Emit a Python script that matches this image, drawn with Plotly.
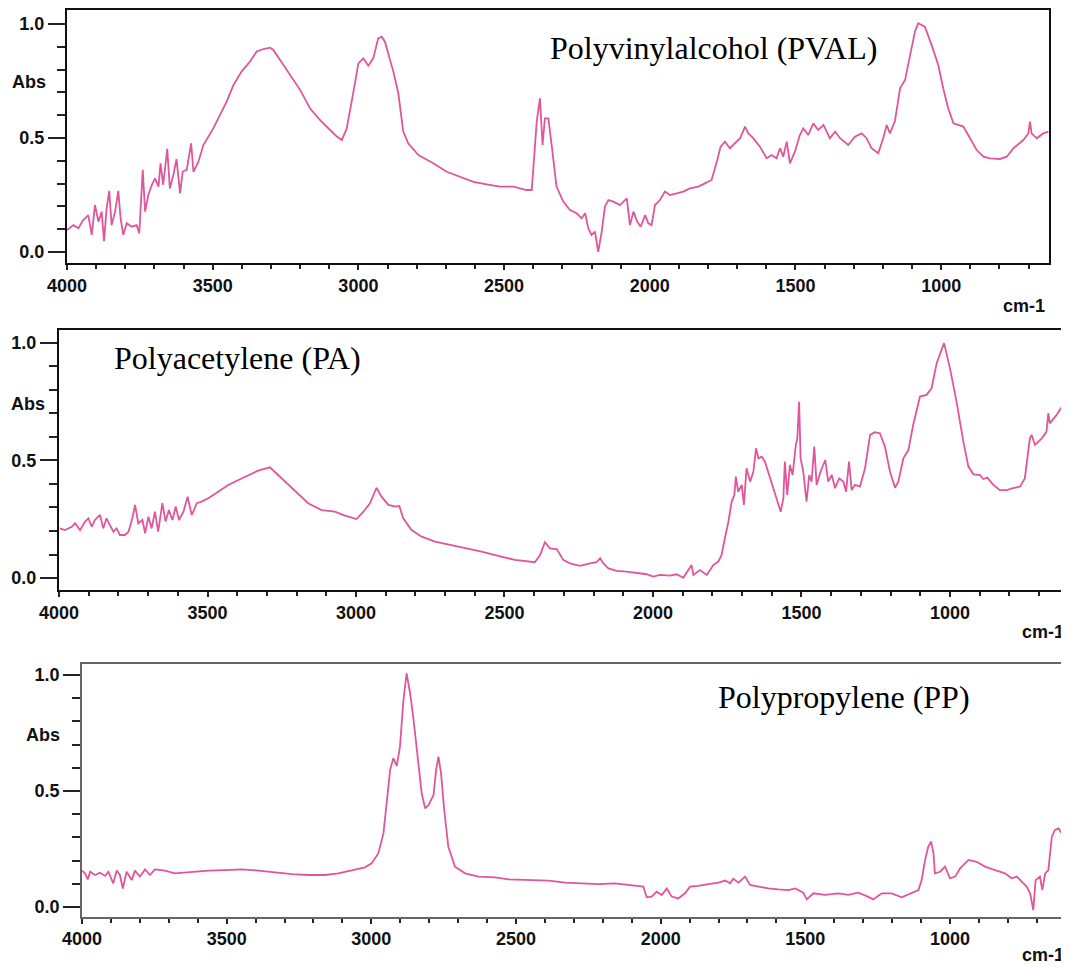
import plotly.graph_objects as go

# the page body adds an 8px margin, so pixel positions below are screen px minus OFF
OFF = 8
W, H = 1069 - OFF, 967 - OFF
LINE = "#e0559b"

# --- Polyvinylalcohol (PVAL) ---
pval_wn = [4000, 3978, 3961, 3944, 3927, 3915, 3904, 3892, 3881, 3873, 3864, 3855, 3847, 3835,
           3824, 3816, 3807, 3795, 3778, 3761, 3752, 3747, 3740, 3732, 3721, 3709, 3698, 3686,
           3679, 3670, 3656, 3647, 3635, 3624, 3612, 3603, 3589, 3574, 3566, 3549, 3532, 3498,
           3475, 3452, 3429, 3401, 3372, 3349, 3326, 3303, 3292, 3269, 3235, 3200, 3166, 3132,
           3097, 3074, 3057, 3040, 3017, 3000, 2983, 2966, 2949, 2932, 2920, 2909, 2880, 2863,
           2846, 2829, 2794, 2743, 2697, 2651, 2605, 2560, 2514, 2468, 2423, 2405, 2388, 2377,
           2368, 2360, 2348, 2335, 2320, 2297, 2274, 2251, 2234, 2222, 2211, 2200, 2188, 2177,
           2165, 2154, 2142, 2125, 2102, 2079, 2068, 2056, 2043, 2031, 2016, 2005, 1994, 1982,
           1965, 1948, 1931, 1908, 1885, 1862, 1833, 1811, 1788, 1770, 1757, 1742, 1725, 1708,
           1690, 1673, 1662, 1645, 1622, 1599, 1582, 1565, 1553, 1542, 1530, 1519, 1502, 1485,
           1473, 1456, 1439, 1422, 1404, 1382, 1364, 1347, 1319, 1296, 1273, 1256, 1239, 1216,
           1199, 1187, 1176, 1159, 1141, 1124, 1107, 1090, 1079, 1056, 1033, 1010, 993, 976,
           958, 924, 901, 878, 855, 832, 798, 775, 752, 718, 701, 695, 690, 672, 650, 632]
pval_abs = [0.096, 0.118, 0.104, 0.140, 0.162, 0.075, 0.206, 0.133, 0.177, 0.048, 0.192, 0.268, 0.118, 0.177,
            0.268, 0.148, 0.075, 0.126, 0.111, 0.118, 0.082, 0.221, 0.360, 0.177, 0.250, 0.294, 0.323, 0.287,
            0.389, 0.294, 0.452, 0.279, 0.338, 0.408, 0.257, 0.352, 0.360, 0.477, 0.352, 0.396, 0.469, 0.542,
            0.601, 0.659, 0.732, 0.791, 0.835, 0.879, 0.890, 0.896, 0.886, 0.842, 0.776, 0.711, 0.630, 0.579,
            0.535, 0.506, 0.491, 0.542, 0.703, 0.827, 0.849, 0.817, 0.849, 0.937, 0.944, 0.922, 0.791, 0.696,
            0.528, 0.477, 0.425, 0.389, 0.352, 0.330, 0.308, 0.297, 0.287, 0.287, 0.272, 0.272, 0.572, 0.674,
            0.469, 0.586, 0.586, 0.450, 0.287, 0.221, 0.184, 0.170, 0.148, 0.170, 0.104, 0.075, 0.089, 0.001,
            0.089, 0.199, 0.228, 0.221, 0.206, 0.235, 0.118, 0.177, 0.133, 0.111, 0.162, 0.126, 0.118, 0.206,
            0.228, 0.265, 0.250, 0.257, 0.265, 0.279, 0.287, 0.301, 0.316, 0.396, 0.462, 0.484, 0.455, 0.477,
            0.499, 0.550, 0.520, 0.499, 0.462, 0.411, 0.425, 0.411, 0.455, 0.418, 0.484, 0.389, 0.440, 0.513,
            0.542, 0.513, 0.564, 0.535, 0.557, 0.499, 0.528, 0.499, 0.469, 0.506, 0.520, 0.499, 0.455, 0.433,
            0.499, 0.557, 0.520, 0.572, 0.718, 0.754, 0.864, 0.966, 1.003, 0.988, 0.908, 0.820, 0.718, 0.630,
            0.564, 0.550, 0.499, 0.447, 0.418, 0.411, 0.408, 0.418, 0.455, 0.491, 0.520, 0.572, 0.520, 0.499, 0.520, 0.528]

# --- Polyacetylene (PA) ---
pa_wn = [3997, 3980, 3957, 3946, 3929, 3912, 3901, 3890, 3879, 3862, 3851, 3840, 3829, 3817,
         3806, 3795, 3778, 3766, 3753, 3744, 3733, 3719, 3710, 3699, 3688, 3677, 3666, 3652,
         3641, 3630, 3618, 3607, 3596, 3581, 3567, 3553, 3536, 3520, 3497, 3464, 3430, 3396,
         3362, 3329, 3290, 3250, 3205, 3161, 3116, 3071, 3037, 2998, 2975, 2953, 2931, 2914,
         2891, 2868, 2854, 2841, 2813, 2779, 2734, 2690, 2633, 2577, 2521, 2465, 2398, 2380,
         2364, 2347, 2324, 2302, 2279, 2246, 2212, 2190, 2178, 2167, 2150, 2122, 2089, 2055,
         2021, 1999, 1976, 1943, 1920, 1898, 1870, 1864, 1842, 1819, 1797, 1780, 1769, 1758,
         1746, 1735, 1726, 1721, 1713, 1701, 1694, 1685, 1673, 1662, 1653, 1645, 1634, 1623,
         1612, 1595, 1578, 1570, 1561, 1556, 1548, 1539, 1530, 1519, 1514, 1508, 1503, 1494,
         1483, 1474, 1466, 1457, 1449, 1436, 1420, 1410, 1398, 1387, 1373, 1359, 1350, 1340,
         1331, 1320, 1303, 1286, 1269, 1253, 1236, 1219, 1202, 1185, 1174, 1157, 1140, 1124,
         1101, 1079, 1062, 1045, 1020, 1000, 978, 955, 938, 921, 899, 888, 874, 854,
         832, 809, 787, 764, 748, 731, 725, 714, 691, 675, 669, 664, 641, 619, 605]
pa_abs = [0.211, 0.204, 0.218, 0.233, 0.204, 0.240, 0.254, 0.218, 0.247, 0.268, 0.211, 0.254, 0.226, 0.197,
          0.211, 0.183, 0.183, 0.197, 0.254, 0.311, 0.233, 0.247, 0.190, 0.261, 0.211, 0.282, 0.197, 0.318,
          0.240, 0.289, 0.247, 0.304, 0.247, 0.282, 0.346, 0.268, 0.318, 0.325, 0.339, 0.367, 0.396, 0.417,
          0.438, 0.457, 0.471, 0.424, 0.367, 0.318, 0.289, 0.282, 0.265, 0.251, 0.282, 0.318, 0.384, 0.346,
          0.311, 0.304, 0.306, 0.254, 0.204, 0.176, 0.155, 0.143, 0.129, 0.112, 0.094, 0.077, 0.067, 0.098,
          0.152, 0.126, 0.123, 0.077, 0.062, 0.052, 0.062, 0.067, 0.084, 0.062, 0.041, 0.030, 0.027, 0.020,
          0.016, 0.006, 0.013, 0.010, 0.016, 0.001, 0.055, 0.013, 0.034, 0.013, 0.055, 0.070, 0.098, 0.169,
          0.240, 0.325, 0.353, 0.431, 0.367, 0.396, 0.311, 0.467, 0.410, 0.452, 0.552, 0.509, 0.516, 0.495,
          0.452, 0.382, 0.311, 0.282, 0.339, 0.495, 0.353, 0.481, 0.438, 0.566, 0.594, 0.750, 0.509, 0.452,
          0.325, 0.438, 0.410, 0.559, 0.396, 0.452, 0.502, 0.410, 0.438, 0.382, 0.424, 0.410, 0.367, 0.495,
          0.374, 0.396, 0.389, 0.467, 0.609, 0.620, 0.616, 0.559, 0.452, 0.384, 0.410, 0.509, 0.545, 0.651,
          0.772, 0.779, 0.807, 0.913, 0.999, 0.892, 0.750, 0.580, 0.474, 0.441, 0.438, 0.421, 0.427, 0.396,
          0.374, 0.374, 0.382, 0.389, 0.424, 0.594, 0.609, 0.566, 0.594, 0.623, 0.701, 0.658, 0.694, 0.736, 0.779]

# --- Polypropylene (PP) ---
pp_wn = [4000, 3990, 3980, 3972, 3955, 3938, 3920, 3909, 3892, 3880, 3869, 3859, 3846, 3828,
         3817, 3800, 3782, 3765, 3748, 3713, 3679, 3621, 3563, 3506, 3448, 3390, 3333, 3275,
         3218, 3160, 3114, 3068, 3022, 2999, 2976, 2958, 2947, 2935, 2924, 2912, 2901, 2889,
         2878, 2866, 2854, 2843, 2826, 2814, 2802, 2785, 2776, 2768, 2759, 2748, 2734, 2711,
         2676, 2630, 2572, 2526, 2457, 2388, 2330, 2273, 2215, 2158, 2100, 2060, 2048, 2031,
         2014, 1996, 1979, 1962, 1939, 1916, 1898, 1870, 1835, 1800, 1777, 1760, 1749, 1731,
         1708, 1691, 1662, 1628, 1593, 1558, 1535, 1507, 1495, 1472, 1432, 1386, 1351, 1317,
         1288, 1265, 1236, 1201, 1167, 1132, 1109, 1098, 1086, 1075, 1065, 1057, 1052, 1034,
         1017, 1000, 982, 965, 936, 908, 879, 844, 810, 787, 769, 752, 735, 723,
         712, 704, 689, 681, 671, 660, 648, 637, 625, 614, 602]
pp_abs = [0.157, 0.145, 0.119, 0.152, 0.138, 0.148, 0.134, 0.152, 0.102, 0.157, 0.138, 0.080, 0.152, 0.116,
          0.157, 0.131, 0.162, 0.138, 0.162, 0.157, 0.145, 0.152, 0.157, 0.159, 0.162, 0.157, 0.148, 0.142,
          0.138, 0.138, 0.145, 0.157, 0.171, 0.188, 0.231, 0.318, 0.461, 0.591, 0.641, 0.608, 0.691, 0.892,
          1.007, 0.921, 0.806, 0.677, 0.490, 0.425, 0.440, 0.483, 0.591, 0.648, 0.576, 0.418, 0.260, 0.174,
          0.145, 0.131, 0.128, 0.119, 0.116, 0.114, 0.105, 0.102, 0.099, 0.102, 0.095, 0.088, 0.042, 0.045,
          0.066, 0.052, 0.080, 0.045, 0.037, 0.059, 0.088, 0.091, 0.099, 0.105, 0.114, 0.102, 0.122, 0.105,
          0.131, 0.095, 0.088, 0.080, 0.076, 0.073, 0.080, 0.062, 0.033, 0.059, 0.052, 0.059, 0.052, 0.062,
          0.047, 0.033, 0.059, 0.059, 0.042, 0.062, 0.073, 0.116, 0.203, 0.260, 0.282, 0.231, 0.145, 0.152,
          0.174, 0.124, 0.131, 0.167, 0.203, 0.195, 0.174, 0.159, 0.145, 0.124, 0.131, 0.109, 0.088, 0.059,
          -0.013, 0.116, 0.131, 0.073, 0.145, 0.159, 0.303, 0.332, 0.339, 0.318, 0.260]

x_tick_vals = [4000, 3500, 3000, 2500, 2000, 1500, 1000]
y_tick_vals = [0.0, 0.5, 1.0]

# panel frames in screen pixels: left, right, top, bottom ; x range ; y range ; frame colour
panels = [
    dict(wn=pval_wn, ab=pval_abs, box=(67, 1049, 10, 263), xr=[4000, 630], yr=[-0.048, 1.061], frame="#111111", fw=2,
         title="Polyvinylalcohol (PVAL)", tpos=(713, 48), abs_pos=(29, 82), cm_pos=(1047, 306)),
    dict(wn=pa_wn, ab=pa_abs, box=(59, 1067, 330, 590), xr=[4000, 606], yr=[-0.051, 1.055], frame="#111111", fw=2,
         title="Polyacetylene (PA)", tpos=(237, 358), abs_pos=(28, 404), cm_pos=(1066, 632)),
    dict(wn=pp_wn, ab=pp_abs, box=(82, 1066, 664, 917), xr=[4000, 599], yr=[-0.043, 1.047], frame="#666666", fw=1.5,
         title="Polypropylene (PP)", tpos=(844, 697), abs_pos=(43, 735), cm_pos=(1066, 955)),
]


def px_x(v):
    return (v - OFF) / W


def px_y(v):
    return 1 - (v - OFF) / H


TICKFONT = dict(family="Liberation Sans, Arial, sans-serif", size=18, color="#111111", weight="bold")

fig = go.Figure()
layout = dict(width=W, height=H, autosize=False, margin=dict(l=0, r=0, t=0, b=0, pad=0),
              paper_bgcolor="white", plot_bgcolor="white", showlegend=False)
annotations = []

for i, p in enumerate(panels, start=1):
    sfx = "" if i == 1 else str(i)
    l, r, t, b = p["box"]
    fig.add_trace(go.Scatter(x=p["wn"], y=p["ab"], mode="lines",
                             line=dict(color=LINE, width=1.8),
                             xaxis="x" + sfx, yaxis="y" + sfx, hoverinfo="x+y"))
    layout["xaxis" + sfx] = dict(
        domain=[px_x(l), min(px_x(r), 1.0)], anchor="y" + sfx, range=p["xr"], automargin=False,
        showgrid=False, zeroline=False, showline=True, mirror=True,
        linecolor=p["frame"], linewidth=p["fw"],
        tickmode="array", tickvals=x_tick_vals, ticktext=[str(v) for v in x_tick_vals],
        ticks="outside", ticklen=5, tickwidth=2, tickcolor="#222222",
        minor=dict(dtick=100, ticks="outside", ticklen=4, tickwidth=2, tickcolor="#222222"),
        tickfont=TICKFONT,
    )
    layout["yaxis" + sfx] = dict(
        domain=[px_y(b), px_y(t)], anchor="x" + sfx, range=p["yr"], automargin=False,
        showgrid=False, zeroline=False, showline=True, mirror=True,
        linecolor=p["frame"], linewidth=p["fw"],
        tickmode="array", tickvals=y_tick_vals, ticktext=["0.0", "0.5", "1.0"],
        ticks="outside", ticklen=17, tickwidth=2, tickcolor="#222222",
        minor=dict(dtick=0.1, tick0=0, ticks="outside", ticklen=8, tickwidth=2, tickcolor="#222222"),
        tickfont=TICKFONT,
    )
    tx, ty = p["tpos"]
    annotations.append(dict(text=p["title"], x=px_x(tx), y=px_y(ty), xref="paper", yref="paper",
                            xanchor="center", yanchor="middle", showarrow=False,
                            font=dict(family="Liberation Serif, Times New Roman, serif", size=32, color="#000000")))
    ax, ay = p["abs_pos"]
    annotations.append(dict(text="Abs", x=px_x(ax), y=px_y(ay), xref="paper", yref="paper",
                            xanchor="center", yanchor="middle", showarrow=False, font=TICKFONT))
    cx, cy = p["cm_pos"]
    annotations.append(dict(text="cm-1", x=px_x(cx), y=px_y(cy), xref="paper", yref="paper",
                            xanchor="right", yanchor="middle", showarrow=False, font=TICKFONT))

layout["annotations"] = annotations
fig.update_layout(**layout)
fig.write_html("out.html")
